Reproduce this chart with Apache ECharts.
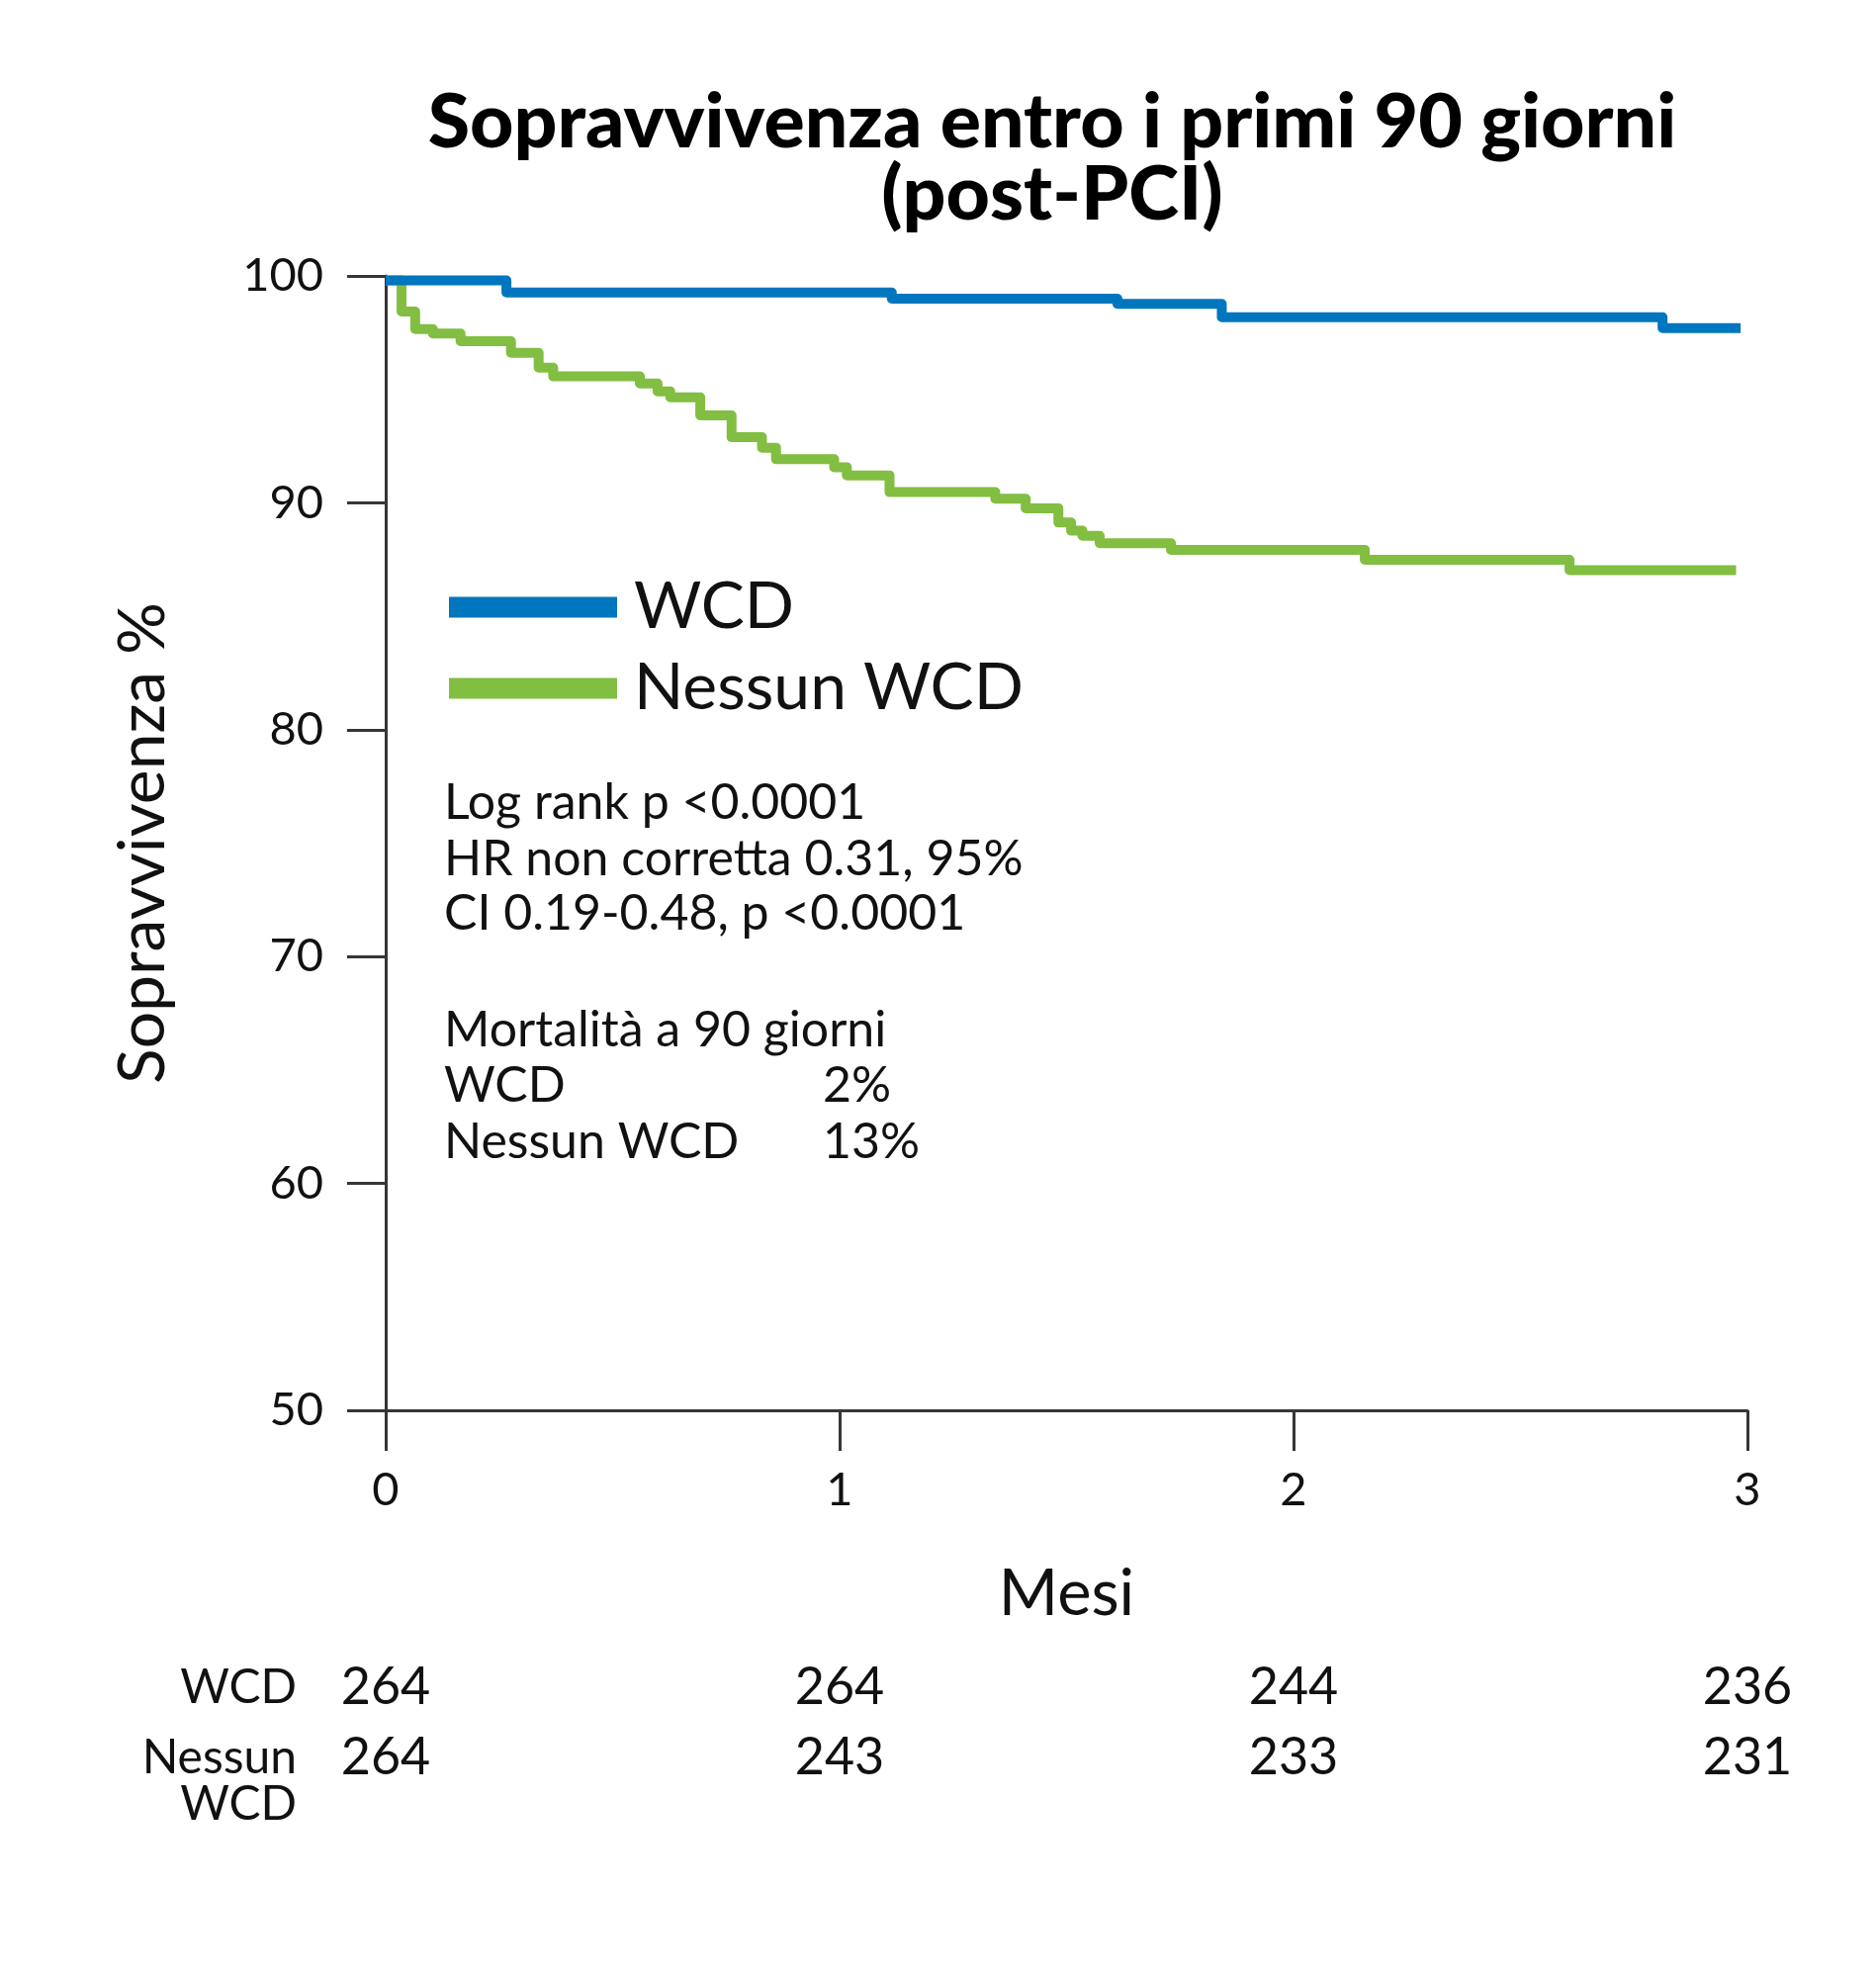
<!DOCTYPE html>
<html>
<head>
<meta charset="utf-8">
<script src="https://cdn.jsdelivr.net/npm/echarts@6/dist/echarts.min.js"></script>
<style>
html,body{margin:0;padding:0;background:#fff;}
#chart{width:1897px;height:2000px;}
</style>
</head>
<body>
<div id="chart"></div>
<script>
// ---- data (months, survival %) ----
const wcdTime   = [0, 0.266, 1.115, 1.612, 1.842, 2.813, 2.985];
const wcdSurv   = [99.8, 99.27, 99.0, 98.77, 98.18, 97.7, 97.7];
const noWcdTime = [0, 0.035, 0.065, 0.104, 0.165, 0.276, 0.337, 0.369, 0.560, 0.599, 0.627, 0.693, 0.762, 0.829, 0.860, 0.988, 1.016, 1.110, 1.343, 1.410, 1.482, 1.510, 1.535, 1.573, 1.730, 2.157, 2.608, 2.975];
const noWcdSurv = [99.8, 98.43, 97.66, 97.46, 97.12, 96.61, 95.96, 95.57, 95.26, 94.91, 94.65, 93.85, 92.89, 92.43, 91.92, 91.57, 91.21, 90.47, 90.18, 89.76, 89.13, 88.77, 88.55, 88.22, 87.93, 87.49, 87.03, 87.03];
const atRiskMonths = [0, 1, 2, 3];
const wcdAtRisk    = [264, 264, 244, 236];
const noWcdAtRisk  = [264, 243, 233, 231];
const rowLabels    = ['WCD', 'Nessun WCD'];
const seriesNames  = ['WCD', 'Nessun WCD'];
const titleLines   = ['Sopravvivenza entro i primi 90 giorni', '(post-PCI)'];
const statLines    = ['Log rank p <0.0001', 'HR non corretta 0.31, 95%', 'CI 0.19-0.48, p <0.0001'];
const mortTitle    = 'Mortalità a 90 giorni';
const mortRows     = [['WCD', '2%'], ['Nessun WCD', '13%']];

const BLUE = '#0076BE', GREEN = '#82BE42', AXIS = '#363636';
const FONT = 'Lato, "Noto Sans", sans-serif';

const zip = (a, b) => a.map((v, i) => [v, b[i]]);
const riskData = [];
atRiskMonths.forEach((m, i) => {
  riskData.push({ value: [m, 0], n: wcdAtRisk[i] });
  riskData.push({ value: [m, 1], n: noWcdAtRisk[i] });
});

const chart = echarts.init(document.getElementById('chart'), null, { renderer: 'canvas' });

const textEl = (text, x, y, size, opts) => Object.assign({
  type: 'text', x: x, y: y, silent: true,
  style: Object.assign({ text: text, fill: '#111', font: size + 'px ' + FONT, textVerticalAlign: 'middle' }, opts || {})
});

const TF = '900 77px ' + FONT;
const graphics = [
  textEl(titleLines[0], 1064, 124, 77, { textAlign: 'center', font: TF, fill: '#000' }),
  textEl(titleLines[1], 1064, 197, 77, { textAlign: 'center', font: TF, fill: '#000' })
];
const SF = 50;
const statY = [812, 869, 924];
statLines.forEach((t, i) => graphics.push(textEl(t, 449, statY[i], SF)));
graphics.push(textEl(mortTitle, 449, 1042, SF));
const mortY = [1098, 1155];
mortRows.forEach((r, i) => {
  graphics.push(textEl(r[0], 449, mortY[i], SF));
  graphics.push(textEl(r[1], 832, mortY[i], SF));
});

chart.setOption({
  animation: false,
  backgroundColor: '#fff',
  textStyle: { fontFamily: FONT },
  graphic: graphics,
  legend: {
    data: seriesNames,
    orient: 'vertical',
    left: 449, top: 574,
    icon: 'rect',
    itemWidth: 170, itemHeight: 21, itemGap: 12,
    textStyle: { fontSize: 66, color: '#111', fontFamily: FONT, lineHeight: 70, padding: [0, 0, 0, 12] }
  },
  grid: [
    { left: 390, right: 130, top: 279, bottom: 574, containLabel: false },
    { left: 390, right: 130, top: 1671, height: 142, containLabel: false }
  ],
  xAxis: [
    {
      gridIndex: 0, type: 'value', min: 0, max: 3, interval: 1,
      name: 'Mesi', nameLocation: 'middle', nameGap: 154,
      nameTextStyle: { fontSize: 65, color: '#111', fontFamily: FONT },
      axisLine: { lineStyle: { color: AXIS, width: 3 } },
      axisTick: { show: true, length: 41, lineStyle: { color: AXIS, width: 3 } },
      axisLabel: { fontSize: 47, color: '#111', margin: 57, fontFamily: FONT },
      splitLine: { show: false }
    },
    {
      gridIndex: 1, type: 'value', min: 0, max: 3, show: false
    }
  ],
  yAxis: [
    {
      gridIndex: 0, type: 'value', min: 50, max: 100, interval: 10,
      name: 'Sopravvivenza %', nameLocation: 'middle', nameGap: 212, nameRotate: 90,
      nameTextStyle: { fontSize: 66, color: '#111', fontFamily: FONT },
      axisLine: { show: true, lineStyle: { color: AXIS, width: 3 } },
      axisTick: { show: true, length: 39, lineStyle: { color: AXIS, width: 3 } },
      axisLabel: { fontSize: 47, color: '#111', margin: 63, fontFamily: FONT },
      splitLine: { show: false }
    },
    {
      gridIndex: 1, type: 'category', data: rowLabels, inverse: true,
      axisLine: { show: false }, axisTick: { show: false }, splitLine: { show: false },
      axisLabel: {
        interval: 0, fontSize: 48, color: '#111', margin: 90, lineHeight: 47, align: 'right', fontFamily: FONT,
        formatter: v => v === 'Nessun WCD' ? ' \nNessun\nWCD' : v
      }
    }
  ],
  series: [
    {
      name: seriesNames[1], type: 'line', step: 'end', showSymbol: false, symbol: 'none',
      xAxisIndex: 0, yAxisIndex: 0, z: 2,
      data: zip(noWcdTime, noWcdSurv),
      itemStyle: { color: GREEN },
      lineStyle: { color: GREEN, width: 10, join: 'round', cap: 'butt' }
    },
    {
      name: seriesNames[0], type: 'line', step: 'end', showSymbol: false, symbol: 'none',
      xAxisIndex: 0, yAxisIndex: 0, z: 3,
      data: zip(wcdTime, wcdSurv),
      itemStyle: { color: BLUE },
      lineStyle: { color: BLUE, width: 10, join: 'round', cap: 'butt' }
    },
    {
      name: 'atRisk', type: 'scatter', xAxisIndex: 1, yAxisIndex: 1,
      symbolSize: 1, itemStyle: { color: '#ffffff', opacity: 1 },
      data: riskData,
      label: {
        show: true, position: 'inside', fontSize: 52, color: '#111', opacity: 1, fontFamily: FONT,
        formatter: p => String(p.data.n)
      },
      silent: true
    }
  ]
});
</script>
</body>
</html>
